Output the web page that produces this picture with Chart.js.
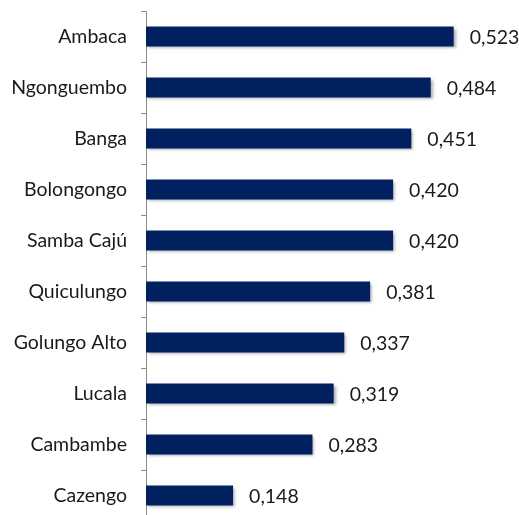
<!DOCTYPE html>
<html>
<head>
<meta charset="utf-8">
<script src="https://cdn.jsdelivr.net/npm/chart.js@4"></script>
<style>
  html, body { margin: 0; padding: 0; background: #fff; overflow: hidden; }
  #wrap { width: 519px; height: 515px; overflow: hidden; }
</style>
</head>
<body>
<div id="wrap"><canvas id="chart" width="519" height="521"></canvas></div>
<script>
const municipios = ["Ambaca", "Ngonguembo", "Banga", "Bolongongo", "Samba Cajú",
  "Quiculungo", "Golungo Alto", "Lucala", "Cambambe", "Cazengo"];
const indice = [0.523, 0.484, 0.451, 0.420, 0.420, 0.381, 0.337, 0.319, 0.283, 0.148];

const FONT = "Lato";
const FONT_SIZE = 19.5;

// sombra suave debajo de las barras
const barShadow = {
  id: "barShadow",
  beforeDatasetsDraw(chart) {
    const ctx = chart.ctx;
    ctx.save();
    ctx.shadowColor = "rgba(0,0,0,0.35)";
    ctx.shadowBlur = 3;
    ctx.shadowOffsetX = 2;
    ctx.shadowOffsetY = 2;
  },
  afterDatasetsDraw(chart) {
    chart.ctx.restore();
  },
};

// etiquetas de valor a la derecha de cada barra
const valueLabels = {
  id: "valueLabels",
  afterDatasetsDraw(chart) {
    const ctx = chart.ctx;
    const meta = chart.getDatasetMeta(0);
    ctx.save();
    ctx.font = FONT_SIZE + "px " + FONT;
    ctx.fillStyle = "#1a1a1a";
    ctx.textAlign = "left";
    ctx.textBaseline = "middle";
    meta.data.forEach((bar, i) => {
      ctx.fillText(indice[i].toFixed(3).replace(".", ","), bar.x + 16, bar.y + 1);
    });
    ctx.restore();
  },
};

new Chart(document.getElementById("chart"), {
  type: "bar",
  data: {
    labels: municipios,
    datasets: [
      {
        data: indice,
        backgroundColor: "#002060",
        borderWidth: 0,
        categoryPercentage: 0.8,
        barPercentage: 0.49,
      },
    ],
  },
  options: {
    indexAxis: "y",
    responsive: false,
    animation: false,
    layout: { padding: { top: 11, right: 20, bottom: 0, left: 0 } },
    plugins: {
      legend: { display: false },
      tooltip: { enabled: false },
    },
    scales: {
      x: { display: false, min: 0, max: 0.6 },
      y: {
        afterFit: (scale) => {
          scale.width = 146;
          scale.paddingTop = 0;
          scale.paddingBottom = 0;
        },
        border: { display: true, color: "#8c8c8c", width: 1 },
        grid: {
          drawOnChartArea: false,
          drawTicks: true,
          tickLength: 5,
          color: "#8c8c8c",
          offset: true,
        },
        ticks: {
          padding: 14,
          color: "#1a1a1a",
          font: { family: FONT, size: FONT_SIZE },
        },
      },
    },
  },
  plugins: [barShadow, valueLabels],
});
</script>
</body>
</html>
